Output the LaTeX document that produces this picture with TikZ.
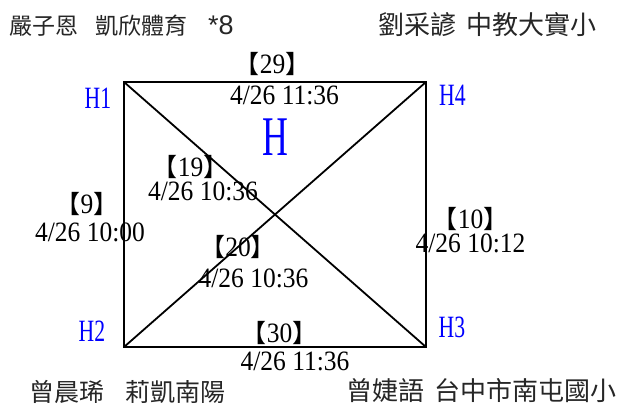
\documentclass[tikz,border=0pt]{standalone}
\usepackage{fontspec}
\usepackage{tikz}
\usetikzlibrary{positioning}
\newfontfamily\cjk{Noto Sans CJK TC}
\newfontfamily\latinsans{Liberation Sans}
\newfontfamily\numfont[FakeStretch=0.91]{Liberation Serif}
\newfontfamily\hfont[FakeStretch=0.7]{Liberation Serif}
\newfontfamily\bighfont[FakeStretch=0.64]{Liberation Serif}
\definecolor{cornerblue}{HTML}{0000FF}
\definecolor{nametext}{HTML}{262626}
\newcommand\gameno[1]{{\cjk\fontsize{25}{25}\selectfont 【}#1{\cjk\fontsize{25}{25}\selectfont 】}}
\tikzset{
  edge/.style={line width=1.8pt, line cap=round},
  corner/.style={font=\hfont\fontsize{31}{31}\selectfont, text=cornerblue, inner sep=0pt, anchor=base},
  gamenum/.style={font=\numfont\fontsize{28}{28}\selectfont, inner sep=0pt, anchor=base},
  gametime/.style={font=\numfont\fontsize{28}{28}\selectfont, inner sep=0pt, anchor=base},
  player/.style={font=\cjk\fontsize{#1}{#1}\selectfont, text=nametext, inner sep=0pt},
  player/.default=26,
}
\begin{document}
\begin{tikzpicture}[x=1pt, y=-1pt]
\useasboundingbox (0,0) rectangle (628,405);

% corners of the group
\coordinate (h1) at (124,82);
\coordinate (h4) at (426,82);
\coordinate (h2) at (124,347);
\coordinate (h3) at (426,347);

% square and diagonals
\draw[edge] (h1) -- (h4) -- (h3) -- (h2) -- cycle;
\draw[edge] (h1) -- (h3);
\draw[edge] (h2) -- (h4);

% corner labels
\node[corner] (lh1) at (98,108) {H1};
\node[corner] (lh4) at (452.5,105) {H4};
\node[corner] (lh2) at (92,341) {H2};
\node[corner] (lh3) at (452,337) {H3};
\node[font=\bighfont\fontsize{56}{56}\selectfont, text=cornerblue, inner sep=0pt, anchor=base] (grp) at (275,155) {H};

% games
\node[gamenum] (g29) at (272.5,73) {\gameno{29}};
\node[gametime] (t29) at (284.5,104) {4/26 11:36};
\node[gamenum] (g19) at (190.5,176) {\gameno{19}};
\node[gametime] (t19) at (203,200) {4/26 10:36};
\node[gamenum] (g9) at (87,213) {\gameno{9}};
\node[gametime] (t9) at (90,241) {4/26 10:00};
\node[gamenum] (g20) at (238,256) {\gameno{20}};
\node[gametime] (t20) at (253.5,287) {4/26 10:36};
\node[gamenum] (g10) at (470.5,228) {\gameno{10}};
\node[gametime] (t10) at (470.5,252) {4/26 10:12};
\node[gamenum] (g30) at (279.5,342) {\gameno{30}};
\node[gametime] (t30) at (295,370) {4/26 11:36};

% players
\node[player=23, anchor=west] (p1) at (9,26) {嚴子恩\hspace{0.75em}凱欣體育\hspace{0.9em}{\latinsans\fontsize{27}{27}\selectfont *8}};
\node[player, anchor=east] (p4) at (597,25) {劉采諺\hspace{0.4em}中教大實小};
\node[player=25, anchor=west] (p2) at (29,392) {曾晨琋\hspace{0.85em}莉凱南陽};
\node[player, anchor=east] (p3) at (617,391) {曾婕語\hspace{0.4em}台中市南屯國小};

\end{tikzpicture}
\end{document}
